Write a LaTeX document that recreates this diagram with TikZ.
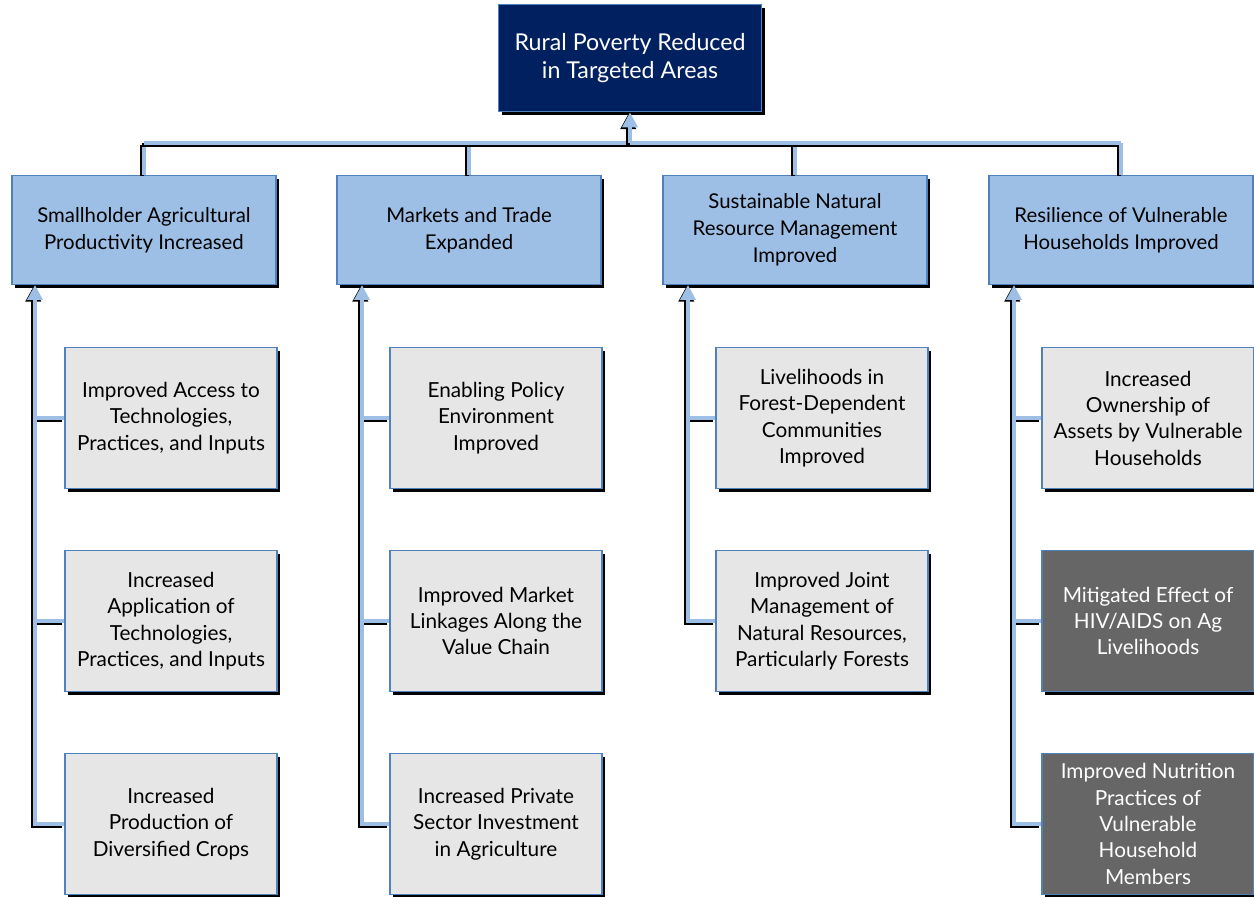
\documentclass[tikz,border=0pt]{standalone}
\usepackage{fontspec}
\setmainfont{Lato}
\usetikzlibrary{arrows.meta,shadows}

\definecolor{navy}{RGB}{0,32,96}
\definecolor{edgeblue}{RGB}{79,129,189}
\definecolor{paleblue}{RGB}{158,191,229}
\definecolor{palegray}{RGB}{230,230,230}
\definecolor{slate}{RGB}{102,102,102}

\tikzset{
  box/.style={draw=edgeblue, line width=1pt, align=center, inner sep=2pt,
    drop shadow={shadow xshift=1.9pt, shadow yshift=-1.9pt, fill=black, opacity=1}},
  goal/.style={box, fill=navy, text=white, minimum width=5.26cm, minimum height=2.14cm,
    font=\fontsize{13.2}{16}\selectfont},
  result/.style={box, fill=paleblue, minimum width=5.28cm, minimum height=2.18cm,
    font=\fontsize{11.6}{15.3}\selectfont},
  output/.style={box, fill=palegray, minimum width=4.24cm, minimum height=2.82cm,
    font=\fontsize{11.8}{15}\selectfont},
  darkoutput/.style={output, fill=slate, text=white},
  link/.style={draw=paleblue, line width=2.3pt,
    preaction={draw=black, line width=2.3pt, transform canvas={shift={(-1pt,-1pt)}}}},
  tip/.style={-{Triangle[width=8.5pt,length=8.5pt,fill=paleblue]}}
}

\begin{document}
\begin{tikzpicture}[x=0.02cm, y=-0.02cm]
\useasboundingbox (0,0) rectangle (1254,896);

\node[goal] (goal) at (630,58) {Rural Poverty Reduced\\in Targeted Areas};

\node[result] (prod)   at (144,230)  {Smallholder Agricultural\\Productivity Increased};
\node[result] (market) at (469,230)  {Markets and Trade\\Expanded};
\node[result] (nrm)    at (795,230)  {Sustainable Natural\\Resource Management\\Improved};
\node[result] (resil)  at (1121,230) {Resilience of Vulnerable\\Households Improved};

\node[output] (access) at (171,418) {Improved Access to\\Technologies,\\Practices, and Inputs};
\node[output] (apply)  at (171,621) {Increased\\Application of\\Technologies,\\Practices, and Inputs};
\node[output] (crops)  at (171,824) {Increased\\Production of\\Diversified Crops};

\node[output] (policy)  at (496,418) {Enabling Policy\\Environment\\Improved};
\node[output] (linkage) at (496,621) {Improved Market\\Linkages Along the\\Value Chain};
\node[output] (invest)  at (496,824) {Increased Private\\Sector Investment\\in Agriculture};

\node[output] (forest) at (822,418) {Livelihoods in\\Forest-Dependent\\Communities\\Improved};
\node[output] (joint)  at (822,621) {Improved Joint\\Management of\\Natural Resources,\\Particularly Forests};

\node[output]     (assets)    at (1148,418) {Increased\\Ownership of\\Assets by Vulnerable\\Households};
\node[darkoutput] (hiv)       at (1148,621) {Mitigated Effect of\\HIV/AIDS on Ag\\Livelihoods};
\node[darkoutput] (nutrition) at (1148,824) {Improved Nutrition\\Practices of\\Vulnerable\\Household\\Members};

%%%%%%%%%%%%%%%%%%%%%%%%%%%%%%%%%%%%%%%%

\coordinate (bus) at (630,143);
\draw[link] (prod.north)   -- (prod.north |- bus);
\draw[link] (market.north) -- (market.north |- bus);
\draw[link] (nrm.north)    -- (nrm.north |- bus);
\draw[link] (resil.north)  -- (resil.north |- bus);
\draw[link] (prod.north |- bus) -- (resil.north |- bus);
\draw[link,tip] (bus) -- (goal.south);

\coordinate (spineA) at (35,285);
\coordinate (spineB) at (362,285);
\coordinate (spineC) at (688,285);
\coordinate (spineD) at (1014,285);

\draw[link] (access.west) -- (access.west -| spineA);
\draw[link] (apply.west)  -- (apply.west -| spineA);
\draw[link,tip] (crops.west) -| (spineA);

\draw[link] (policy.west)  -- (policy.west -| spineB);
\draw[link] (linkage.west) -- (linkage.west -| spineB);
\draw[link,tip] (invest.west) -| (spineB);

\draw[link] (forest.west) -- (forest.west -| spineC);
\draw[link,tip] (joint.west) -| (spineC);

\draw[link] (assets.west) -- (assets.west -| spineD);
\draw[link] (hiv.west)    -- (hiv.west -| spineD);
\draw[link,tip] (nutrition.west) -| (spineD);
\end{tikzpicture}
\end{document}
